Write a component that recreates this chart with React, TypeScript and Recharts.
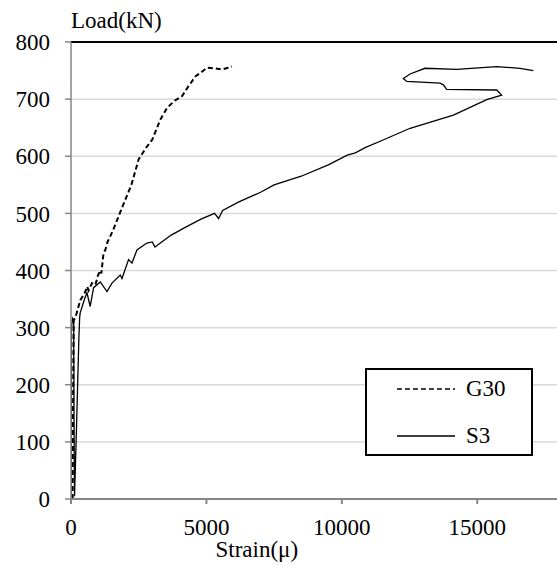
import React from "react";
import {
  LineChart, Line, XAxis, YAxis, CartesianGrid, ReferenceLine, Legend, Label,
} from "recharts";

const FONT = '"Liberation Serif", "Times New Roman", serif';

// strain (µ) / load (kN)
const g30Strain = [60, 75, 96, 159, 343, 500, 600, 650, 775, 900, 1000, 1085, 1120, 1200, 1266, 1350, 1550, 1800, 2230, 2500, 2804, 3000, 3295, 3550, 3849, 4096, 4300, 4600, 4893, 5018, 5300, 5572, 5800, 5941];
const g30Load = [0, 150, 313, 317, 348, 360, 372, 365, 378, 375, 392, 400, 395, 430, 436, 450, 470, 500, 550, 595, 617, 629, 664, 685, 698, 705, 720, 740, 750, 755, 754, 752, 755, 757];

const s3Strain = [0, 15, 60, 100, 110, 130, 200, 290, 320, 340, 500, 590, 708, 834, 1081, 1328, 1513, 1819, 1882, 2125, 2250, 2435, 2800, 3000, 3100, 3300, 3700, 4200, 4800, 5300, 5450, 5600, 6200, 7000, 7500, 8500, 9500, 10200, 10500, 10860, 11500, 12520, 14120, 15350, 15900, 15720, 13870, 13750, 13630, 12400, 12270, 12520, 13070, 14240, 15720, 16580, 17070];
const s3Load = [0, 300, 316, 312, 150, 5, 120, 280, 318, 326, 350, 361, 337, 370, 380, 363, 378, 392, 386, 419, 413, 436, 448, 450, 441, 448, 462, 475, 490, 500, 491, 505, 520, 537, 550, 565, 585, 602, 606, 615, 628, 649, 672, 699, 707, 716, 717, 725, 728, 731, 736, 744, 754, 752, 757, 754, 750];

const xTicks = [0, 5000, 10000, 15000];
const yTicks = [0, 100, 200, 300, 400, 500, 600, 700, 800];

const g30 = g30Strain.map((x, i) => ({ x, y: g30Load[i] }));
const s3 = s3Strain.map((x, i) => ({ x, y: s3Load[i] }));

function LegendBox() {
  const row = (dash: string | undefined, name: string, top: number) => (
    <div style={{ position: "absolute", left: 0, top, height: 24, display: "flex", alignItems: "center" }}>
      <svg width={99} height={24} style={{ display: "block" }}>
        <line x1={30} x2={88} y1={12} y2={12} stroke="#000" strokeWidth={1.5} strokeDasharray={dash} />
      </svg>
      <span>{name}</span>
    </div>
  );
  return (
    <div style={{
      position: "relative", width: 168, height: 88, boxSizing: "border-box",
      border: "2px solid #000", background: "#fff", fontFamily: FONT, fontSize: 23, color: "#000",
    }}>
      {row("5 3", "G30", 7)}
      {row(undefined, "S3", 54)}
    </div>
  );
}

export default function App() {
  return (
    <div style={{ position: "absolute", left: 0, top: 0, width: 557, height: 566, overflow: "hidden", background: "#fff", fontFamily: FONT }}>
      <LineChart width={559} height={566} margin={{ top: 42, right: 0.5, bottom: 0, left: 0 }} style={{ fontFamily: FONT }}>
        <CartesianGrid vertical={false} stroke="#d9d9d9" strokeWidth={1.5} />
        <ReferenceLine y={800} stroke="#000" strokeWidth={2} />
        <XAxis
          type="number" dataKey="x" domain={[0, 18000]} ticks={xTicks} allowDataOverflow
          height={67} tickSize={5} tickMargin={15}
          stroke="#868686" strokeWidth={2}
          tick={{ fill: "#000", fontSize: 23, fontFamily: FONT }}
        >
          <Label value="Strain(μ)" position="insideBottom" offset={9} dx={-58} fill="#000" fontSize={23} fontFamily={FONT} />
        </XAxis>
        <YAxis
          type="number" domain={[0, 800]} ticks={yTicks} width={71}
          tickSize={6} tickMargin={15}
          stroke="#868686" strokeWidth={1.5}
          tick={{ fill: "#000", fontSize: 23, fontFamily: FONT }}
        >
          <Label
            content={({ viewBox }: any) => (
              <text x={viewBox.x + viewBox.width} y={viewBox.y - 14} fill="#000" fontSize={23} fontFamily={FONT}>Load(kN)</text>
            )}
          />
        </YAxis>
        <Legend
          layout="vertical" align="center" verticalAlign="middle"
          wrapperStyle={{ position: "absolute", left: 365, top: 368, width: 168 }}
          content={() => <LegendBox />}
        />
        <Line data={g30} dataKey="y" name="G30" type="linear" stroke="#000" strokeWidth={2} strokeDasharray="5 3" dot={false} isAnimationActive={false} />
        <Line data={s3} dataKey="y" name="S3" type="linear" stroke="#000" strokeWidth={1.3} dot={false} isAnimationActive={false} />
      </LineChart>
    </div>
  );
}
